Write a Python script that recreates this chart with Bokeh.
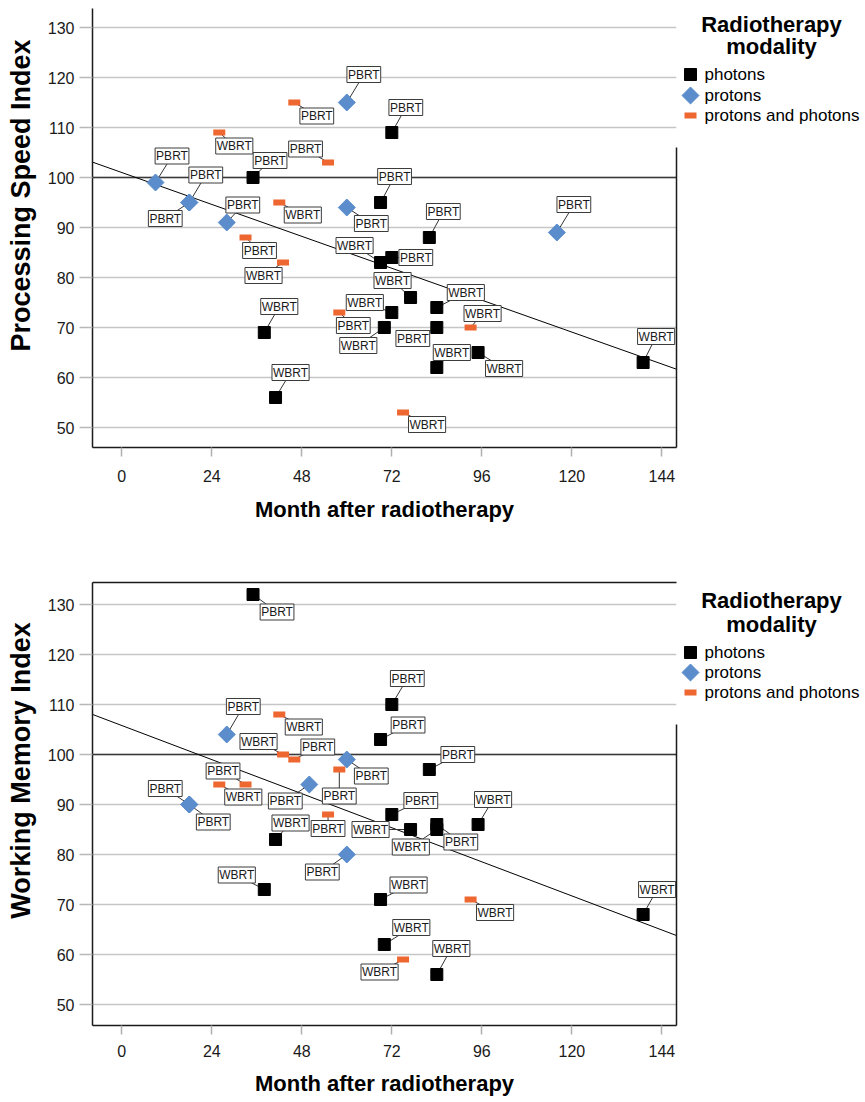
import numpy as np
from bokeh.plotting import figure
from bokeh.models import (Range1d, LinearAxis, Span, FixedTicker, ColumnDataSource)
from bokeh.layouts import column, row
from bokeh.embed import file_html
from bokeh.resources import INLINE
from bokeh.core.properties import value

# ---------------- data ----------------
month_ticks = [0, 24, 48, 72, 96, 120, 144]
score_ticks = [50, 60, 70, 80, 90, 100, 110, 120, 130]
modalities = ["photons", "protons", "protons and photons"]
x_title = "Month after radiotherapy"
legend_title = ["Radiotherapy", "modality"]

# Processing Speed Index
psi_photon_month = [35, 72, 69, 82, 69, 72, 77, 72, 70, 84, 84, 84, 95, 139, 38, 41]
psi_photon_score = [100, 109, 95, 88, 83, 84, 76, 73, 70, 74, 70, 62, 65, 63, 69, 56]
psi_photon_type = ["PBRT", "PBRT", "PBRT", "PBRT", "WBRT", "PBRT", "WBRT", "WBRT",
                   "WBRT", "WBRT", "PBRT", "WBRT", "WBRT", "WBRT", "WBRT", "WBRT"]
psi_proton_month = [9, 18, 18, 28, 60, 60, 116]
psi_proton_score = [99, 95, 95, 91, 115, 94, 89]
psi_proton_type = ["PBRT", "PBRT", "PBRT", "PBRT", "PBRT", "PBRT", "PBRT"]
psi_mixed_month = [46, 26, 55, 42, 33, 43, 58, 93, 75]
psi_mixed_score = [115, 109, 103, 95, 88, 83, 73, 70, 53]
psi_mixed_type = ["PBRT", "WBRT", "PBRT", "WBRT", "PBRT", "WBRT", "PBRT", "WBRT", "WBRT"]
psi_trend_intercept = 101.0
psi_trend_slope = -0.266

# Working Memory Index
wmi_photon_month = [35, 72, 69, 82, 72, 77, 84, 84, 84, 95, 69, 70, 139, 41, 38]
wmi_photon_score = [132, 110, 103, 97, 88, 85, 86, 85, 56, 86, 71, 62, 68, 83, 73]
wmi_photon_type = ["PBRT", "PBRT", "PBRT", "PBRT", "PBRT", "WBRT", "PBRT", "WBRT",
                   "WBRT", "WBRT", "WBRT", "WBRT", "WBRT", "WBRT", "WBRT"]
wmi_proton_month = [28, 60, 50, 18, 18, 60]
wmi_proton_score = [104, 99, 94, 90, 90, 80]
wmi_proton_type = ["PBRT", "PBRT", "PBRT", "PBRT", "PBRT", "PBRT"]
wmi_mixed_month = [42, 43, 46, 26, 33, 58, 55, 93, 75]
wmi_mixed_score = [108, 100, 99, 94, 94, 97, 88, 71, 59]
wmi_mixed_type = ["WBRT", "WBRT", "PBRT", "WBRT", "PBRT", "PBRT", "PBRT", "WBRT", "WBRT"]
wmi_trend_intercept = 105.8
wmi_trend_slope = -0.284

# ---------------- layout (label box offsets in screen px) ----------------
psi_photon_dx = [17, 14, 14, 14, -26, 24, -18, -27, -26, 29, -24, 15, 26, 13, 15, 15]
psi_photon_dy = [-17, -25, -26, -26, -17, 0, -17, -10, 18, -15, 11, -15, 16, -26, -26, -25]
psi_proton_dx = [16.5, 16.5, -24, 16, 17, 24.5, 17]
psi_proton_dy = [-26.5, -27.5, 16, -17.5, -28, 16, -28]
psi_mixed_dx = [22.5, 15, -22.5, 23.5, 14, -19.5, 14, 12, 24]
psi_mixed_dy = [13.5, 13.5, -13.5, 12.5, 13, 13, 13, -14, 12]

wmi_photon_dx = [24, 15.5, 27.5, 28.5, 29, -40, 24, -26, 14.5, 15, 28, 27, 14, 15, -27.5]
wmi_photon_dy = [17.5, -26, -14.5, -15, -14, 0, 17.5, 17.5, -26, -25, -14.5, -17, -25, -16.5, -14.5]
wmi_proton_dx = [16.5, 24.5, -24, -24, 24, -24.5]
wmi_proton_dy = [-28, 16.5, 16.5, -16, 17.5, 17.5]
wmi_mixed_dx = [24.5, -24.5, 23.5, 24, -22.5, 0, 0, 24.5, -23.5]
wmi_mixed_dy = [12.5, -13, -12.5, 12.5, -13.5, 26.5, 14, 13, 12.5]

BLACK = "#000000"
BLUE = "#5b8dcc"
ORANGE = "#ee6630"
FONT = "Liberation Sans"
X_START, X_END = -7.8, 147.9
FRAME_W = 584
TITLE_W = 44          # strip holding the rotated y title
LEFT_B = 47           # tick labels area left of the frame
RIGHT_B = 3
TOTAL_W = 865
LEG_W = TOTAL_W - TITLE_W - LEFT_B - FRAME_W - RIGHT_B
PAGE_X0 = 0
LEG_LEFT_PAGE = PAGE_X0 + TITLE_W + LEFT_B + FRAME_W + RIGHT_B


def side_fig(width, frame_h, border_top, border_bottom):
    f = figure(frame_width=width, frame_height=frame_h,
               x_range=Range1d(0, width), y_range=Range1d(0, frame_h),
               x_axis_type=None, y_axis_type=None,
               min_border_left=0, min_border_right=0,
               min_border_top=border_top, min_border_bottom=border_bottom,
               outline_line_color=None, toolbar_location=None,
               output_backend="svg", background_fill_color="white",
               border_fill_color="white")
    for g in f.grid:
        g.visible = False
    return f


def build(series, trend, y_rng, frame_h, border_top, border_bottom,
          top_line, tick_standoff, title_standoff, right_bound):
    p = figure(frame_width=FRAME_W, frame_height=frame_h,
               x_range=Range1d(X_START, X_END), y_range=Range1d(*y_rng),
               output_backend="svg", toolbar_location=None,
               min_border_left=LEFT_B, min_border_right=RIGHT_B,
               min_border_top=border_top, min_border_bottom=border_bottom,
               outline_line_color=None, background_fill_color="white",
               border_fill_color="white")
    sx = FRAME_W / (X_END - X_START)
    sy = frame_h / (y_rng[1] - y_rng[0])

    xa = p.xaxis[0]
    xa.ticker = FixedTicker(ticks=month_ticks)
    xa.axis_line_color = "#1a1a1a"
    xa.axis_line_width = 1.5
    xa.major_tick_line_color = "#b0b0b0"
    xa.major_tick_line_width = 1.5
    xa.major_tick_out = 9
    xa.major_tick_in = 0
    xa.minor_tick_line_color = None
    xa.major_label_text_font = FONT
    xa.major_label_text_font_size = "16px"
    xa.major_label_text_color = "#1a1a1a"
    xa.major_label_standoff = tick_standoff
    xa.axis_label = x_title
    xa.axis_label_text_font = FONT
    xa.axis_label_text_font_style = "bold"
    xa.axis_label_text_font_size = "22px"
    xa.axis_label_text_color = "#000000"
    xa.axis_label_standoff = title_standoff

    ya = p.yaxis[0]
    ya.ticker = FixedTicker(ticks=score_ticks)
    ya.axis_line_color = "#1a1a1a"
    ya.axis_line_width = 1.5
    ya.major_tick_line_color = "#b8b8b8"
    ya.major_tick_line_width = 1.5
    ya.major_tick_out = 13
    ya.major_tick_in = 0
    ya.minor_tick_line_color = None
    ya.major_label_text_font = FONT
    ya.major_label_text_font_size = "16px"
    ya.major_label_text_color = "#1a1a1a"
    ya.major_label_standoff = 5

    p.xgrid.grid_line_color = None
    p.ygrid.ticker = FixedTicker(ticks=score_ticks)
    p.ygrid.grid_line_color = "#c6c6c6"
    p.ygrid.grid_line_width = 1.5

    ra = LinearAxis(ticker=FixedTicker(ticks=[]), bounds=(y_rng[0], right_bound),
                    axis_line_color="#1a1a1a", axis_line_width=1.5,
                    major_tick_line_color=None, minor_tick_line_color=None,
                    major_tick_out=0, major_tick_in=0, major_label_standoff=0,
                    major_label_text_font_size="0px")
    p.add_layout(ra, "right")
    if top_line:
        ta = LinearAxis(ticker=FixedTicker(ticks=[]),
                        axis_line_color="#1a1a1a", axis_line_width=1.5,
                        major_tick_line_color=None, minor_tick_line_color=None,
                        major_tick_out=0, major_tick_in=0, major_label_standoff=0,
                        major_label_text_font_size="0px")
        p.add_layout(ta, "above")

    p.add_layout(Span(location=100, dimension="width", line_color="#3a3a3a",
                      line_width=1.5, level="underlay"))

    tx = np.array([X_START, X_END])
    p.line(tx, trend[0] + trend[1] * tx, line_color="#000000", line_width=1)

    srcs = []
    for s in series:
        m = np.array(s["month"], dtype=float)
        v = np.array(s["score"], dtype=float)
        lx = m + np.array(s["dx"]) / sx
        ly = v - np.array(s["dy"]) / sy
        src = ColumnDataSource(dict(x=m, y=v, lx=lx, ly=ly, t=s["type"]))
        p.segment(x0="x", y0="y", x1="lx", y1="ly", source=src,
                  line_color="#333333", line_width=1)
        srcs.append((s, src))
    for s, src in srcs:
        if s["kind"] == "photons":
            p.scatter("x", "y", source=src, marker="square", size=12,
                      fill_color=BLACK, line_color=BLACK, line_width=1)
        elif s["kind"] == "protons":
            p.scatter("x", "y", source=src, marker="square", size=12, angle=np.pi / 4,
                      fill_color=BLUE, line_color=BLUE, line_width=1)
        else:
            p.scatter("x", "y", source=src, marker="dash", size=12,
                      line_color=ORANGE, line_width=6)
    for s, src in srcs:
        p.text("lx", "ly", text="t", source=src, text_align="center",
               text_baseline="middle", text_font=value(FONT),
               text_font_size="12px", text_color="#1a1a1a",
               background_fill_color="white", border_line_color="#3c3c3c",
               border_line_width=1, padding=1)
    return p


def build_ytitle(text, frame_h, border_top, border_bottom, center_off):
    f = side_fig(TITLE_W, frame_h, border_top, border_bottom)
    f.text(x=[20], y=[frame_h - (center_off - border_top)], text=[text], angle=np.pi / 2,
           text_align="center", text_baseline="middle", text_font=value(FONT),
           text_font_style="bold", text_font_size="27px", text_color="#000000")
    return f


def build_legend(frame_h, border_top, border_bottom, rows):
    lg = side_fig(LEG_W, frame_h, border_top, border_bottom)
    t1, t2, r1, r2, r3 = [frame_h - (r - border_top) for r in rows]
    title_x = 770 - LEG_LEFT_PAGE
    sw_x = 689 - LEG_LEFT_PAGE
    txt_x = 703 - LEG_LEFT_PAGE
    lg.text(x=[title_x, title_x], y=[t1, t2], text=legend_title,
            text_align="center", text_baseline="middle", text_font=value(FONT),
            text_font_style="bold", text_font_size="22px", text_color="#000000")
    lg.text(x=[txt_x] * 3, y=[r1, r2, r3], text=modalities,
            text_align="left", text_baseline="middle", text_font=value(FONT),
            text_font_size="17px", text_color="#000000")
    lg.scatter([sw_x], [r1], marker="square", size=12,
               fill_color=BLACK, line_color=BLACK, line_width=1)
    lg.scatter([sw_x], [r2], marker="square", size=12, angle=np.pi / 4,
               fill_color=BLUE, line_color=BLUE, line_width=1)
    lg.scatter([sw_x], [r3], marker="dash", size=12,
               line_color=ORANGE, line_width=6)
    return lg


psi_series = [
    dict(kind="photons", month=psi_photon_month, score=psi_photon_score,
         type=psi_photon_type, dx=psi_photon_dx, dy=psi_photon_dy),
    dict(kind="protons", month=psi_proton_month, score=psi_proton_score,
         type=psi_proton_type, dx=psi_proton_dx, dy=psi_proton_dy),
    dict(kind="mixed", month=psi_mixed_month, score=psi_mixed_score,
         type=psi_mixed_type, dx=psi_mixed_dx, dy=psi_mixed_dy),
]
wmi_series = [
    dict(kind="photons", month=wmi_photon_month, score=wmi_photon_score,
         type=wmi_photon_type, dx=wmi_photon_dx, dy=wmi_photon_dy),
    dict(kind="protons", month=wmi_proton_month, score=wmi_proton_score,
         type=wmi_proton_type, dx=wmi_proton_dx, dy=wmi_proton_dy),
    dict(kind="mixed", month=wmi_mixed_month, score=wmi_mixed_score,
         type=wmi_mixed_type, dx=wmi_mixed_dx, dy=wmi_mixed_dy),
]

FH1, BT1, BB1 = 439, 8, 113
FH2, BT2, BB2 = 443, 22, 73
p1 = build(psi_series, (psi_trend_intercept, psi_trend_slope),
           (46.0, 133.8), FH1, BT1, BB1, False, 13, 12, 106)
p2 = build(wmi_series, (wmi_trend_intercept, wmi_trend_slope),
           (45.8, 134.4), FH2, BT2, BB2, True, 10, 11, 106)
# offsets (px) from the top of each chart's canvas
yt1 = build_ytitle("Processing Speed Index", FH1, BT1, BB1, 195)
yt2 = build_ytitle("Working Memory Index", FH2, BT2, BB2, 210)
leg1 = build_legend(FH1, BT1, BB1, (24, 46, 74, 95, 115))
leg2 = build_legend(FH2, BT2, BB2, (40, 64, 92, 112, 132))

layout = column(row(yt1, p1, leg1, spacing=0), row(yt2, p2, leg2, spacing=0), spacing=0)
open("out.html", "w").write(file_html(layout, INLINE))
